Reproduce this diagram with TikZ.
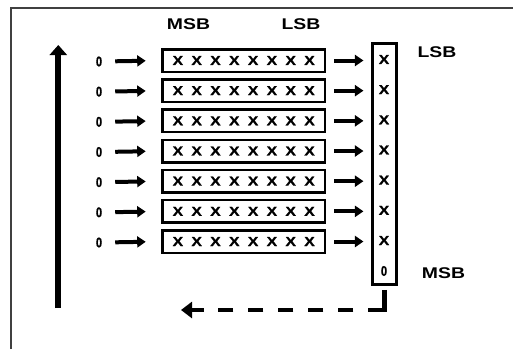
\documentclass[tikz,border=0pt]{standalone}
\usepackage{fontspec}
\usepackage{graphicx}
\usetikzlibrary{arrows.meta}
\newfontfamily\lblfont{Liberation Sans Bold}[FakeStretch=1.25]
\newfontfamily\bitfont{Liberation Sans Bold}[FakeStretch=1.2, FakeBold=1.2]
\newcommand{\xgap}{\hspace{8.4pt}}
\newcommand{\xrow}{X\xgap X\xgap X\xgap X\xgap X\xgap X\xgap X\xgap X}
\newcommand{\narrowzero}{\scalebox{0.65}[1]{0}}

\begin{document}
\begin{tikzpicture}[x=1pt, y=-1pt, line join=miter,
    lbl/.style={font=\lblfont\fontsize{15.5}{15.5}\selectfont, inner sep=0pt},
    bitlbl/.style={font=\bitfont\fontsize{13}{13}\selectfont, inner sep=0pt},
    zerolbl/.style={font=\bitfont\fontsize{14}{14}\selectfont, inner sep=0pt},
    bytebox/.style={draw, line width=2.5pt, minimum width=162.5pt,
                    minimum height=22.5pt, inner sep=0pt, bitlbl},
    colbox/.style={draw, line width=3pt, minimum width=24.5pt,
                   minimum height=240.7pt, inner sep=0pt},
    shiftarrow/.style={line width=4pt, -{Triangle[length=8.5pt, width=11pt]}},
    retline/.style={line width=4.5pt}]

  %--- parameters ---
  \def\R{60.5}    % y of the first row
  \def\dR{30.17}  % distance between rows

  %--- frame (top and left edge only) ---
  \useasboundingbox (0,0) rectangle (513,349);
  \draw[line width=1.6pt, black!75] (11,349) -- (11,8) -- (513,8);

  %--- titles ---
  \node[lbl] (msbtop) at (188.5,24.5) {MSB};
  \node[lbl] (lsbtop) at (301,24.5) {LSB};

  %--- output column ---
  \node[colbox] (col) at (384.7,164.2) {};
  \node[lbl] (lsbcol) at (437,52) {LSB};
  \node[lbl] (msbcol) at (443.5,273) {MSB};
  \node[zerolbl] (bit8) at (384,271) {\narrowzero};

  %--- byte rows ---
  \foreach \r in {1,...,7}{
    \pgfmathsetmacro\y{\R+\dR*(\r-1)}
    \node[zerolbl] (z\r) at (99,\y+1) {\narrowzero};
    \node[bytebox] (byte\r) at (243.7,\y) {\xrow};
    \node[bitlbl] (bit\r) at (384,\y-1) {X};
    \draw[shiftarrow, shorten <=13pt, shorten >=15.5pt] (z\r.east) -- (byte\r.west);
    \draw[shiftarrow, shorten <=8pt, shorten >=7.5pt]
        (byte\r.east) -- (byte\r.east -| col.west);
  }

  %--- big arrow on the left ---
  \coordinate (upbot) at (58.3,308);
  \coordinate (uptop) at (58.3,45);
  \draw[line width=6pt, -{Triangle[length=10pt, width=17pt]}] (upbot) -- (uptop);

  %--- return path (dashed) ---
  \coordinate (dashstart) at (368.3,310);
  \coordinate (dashend) at (203,310);
  \coordinate (rettip) at (181,310);
  \draw[retline, shorten <=3.75pt] (col.south) |- (dashstart);
  \draw[retline, dash pattern=on 15pt off 15pt, dash phase=15pt] (dashstart) -- (dashend);
  \draw[retline, -{Triangle[length=11pt, width=16pt]}] (dashend) -- (rettip);

\end{tikzpicture}
\end{document}
